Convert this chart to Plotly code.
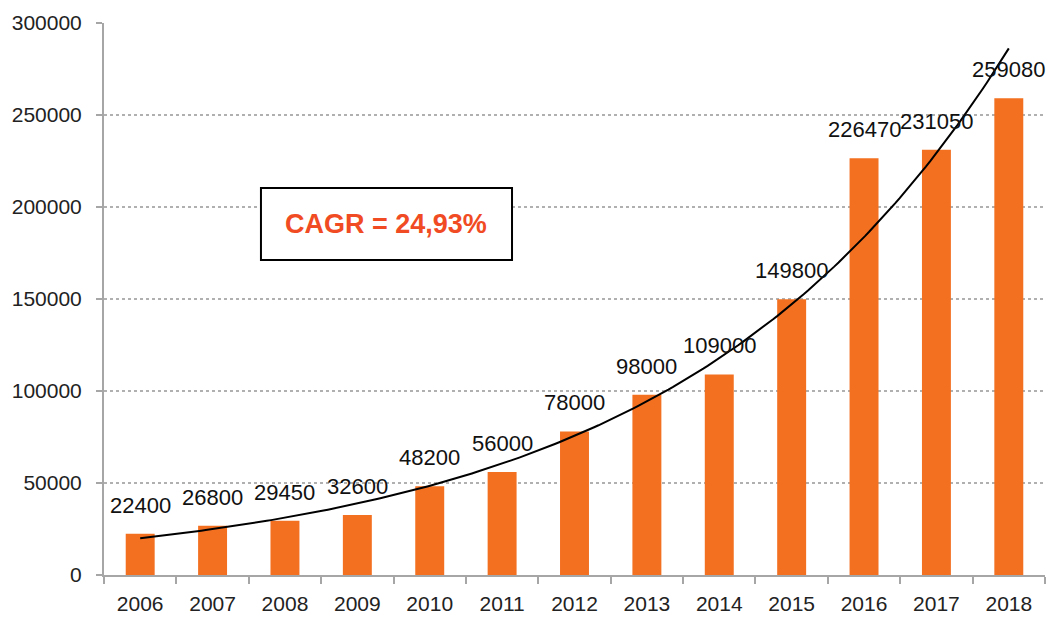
import numpy as np
import plotly.graph_objects as go

years = ["2006", "2007", "2008", "2009", "2010", "2011", "2012",
         "2013", "2014", "2015", "2016", "2017", "2018"]
values = [22400, 26800, 29450, 32600, 48200, 56000, 78000,
          98000, 109000, 149800, 226470, 231050, 259080]
y_ticks = [0, 50000, 100000, 150000, 200000, 250000, 300000]
cagr_text = "CAGR = 24,93%"

bar_color = "#F37021"
axis_gray = "#A6A6A6"

# exponential trend line (least squares on log values, like a spreadsheet trendline)
idx = np.arange(len(values))
slope, intercept = np.polyfit(idx, np.log(values), 1)
tx = np.linspace(0, len(values) - 1, 200)
ty = np.exp(intercept + slope * tx)

fig = go.Figure()
fig.add_trace(go.Bar(
    x=years, y=values, marker=dict(color=bar_color, line=dict(width=0)),
    showlegend=False, hoverinfo="x+y"))
fig.add_trace(go.Scatter(
    x=tx, y=ty, mode="lines", xaxis="x2", yaxis="y",
    line=dict(color="black", width=2), showlegend=False, hoverinfo="skip"))

for i, v in enumerate(values):
    fig.add_annotation(x=i, y=v, xref="x2", yref="y", text=str(v), showarrow=False,
                       yanchor="bottom", yshift=14,
                       font=dict(family="Liberation Sans, Arial", size=22, color="#111111"))

fig.add_shape(type="rect", xref="paper", yref="paper",
              x0=0.1668, x1=0.4336, y0=0.5707, y1=0.701,
              line=dict(color="black", width=2), fillcolor="white", layer="above")
fig.add_annotation(
    xref="paper", yref="paper", x=0.3002, y=0.636,
    text="<b>%s</b>" % cagr_text, showarrow=False,
    font=dict(family="Liberation Sans, Arial", size=27, color="#F04B23"),
    xanchor="center", yanchor="middle")

fig.update_layout(
    width=1046, height=617,
    margin=dict(l=104, r=1, t=23, b=42, autoexpand=False),
    paper_bgcolor="white", plot_bgcolor="white",
    bargap=0.6,
    font=dict(family="Liberation Sans, Arial", color="#222222"),
    xaxis=dict(
        type="category", tickson="boundaries", ticks="outside", ticklen=7,
        tickcolor=axis_gray, tickwidth=2, showline=True, linecolor=axis_gray,
        linewidth=2, showgrid=False, tickfont=dict(size=21, color="#222222"),
        ticklabelstandoff=9, range=[-0.5, 12.5], automargin=False),
    xaxis2=dict(overlaying="x", range=[-0.5, 12.5], visible=False),
    yaxis=dict(
        range=[0, 300000], tickvals=y_ticks, ticktext=[str(t) for t in y_ticks],
        ticks="outside", ticklen=6, tickcolor=axis_gray, tickwidth=2,
        showline=True, linecolor=axis_gray, linewidth=2,
        showgrid=True, gridcolor="#B0B0B0", griddash="dot", gridwidth=1.5,
        tickfont=dict(size=21, color="#222222"), ticklabelstandoff=10,
        zeroline=False, automargin=False),
)

fig.write_html("out.html", config={"displayModeBar": False},
               post_script="document.body.style.margin='0';document.body.style.overflow='hidden';")
